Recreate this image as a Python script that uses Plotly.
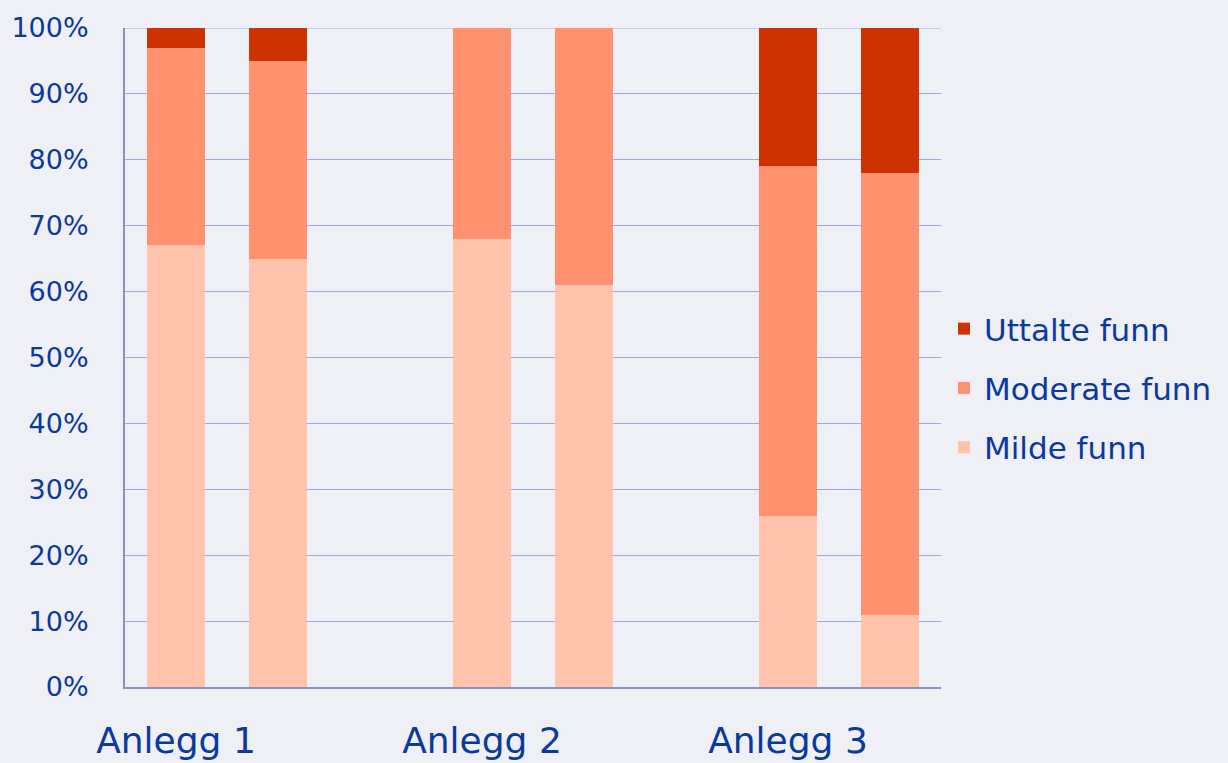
import plotly.graph_objects as go

# Slot positions of the six bars (slots 2 and 5 are left empty as group gaps)
bar_slots = [0, 1, 3, 4, 6, 7]
group_tick_slots = [0, 3, 6]
group_labels = ["Anlegg 1", "Anlegg 2", "Anlegg 3"]

# Share of findings per bar (%)
milde = [67, 65, 68, 61, 26, 11]
moderate = [30, 30, 32, 39, 53, 67]
uttalte = [3, 5, 0, 0, 21, 22]

y_ticks = list(range(0, 101, 10))
y_tick_labels = [f"{v}%" for v in y_ticks]

TEXT = "#0a3a9c"
BG = "#efeff6"
GRID = "#a3a8dc"
FONT = "DejaVu Sans, Verdana, sans-serif"

fig = go.Figure()
# (name, values, colour, legend rank) — stacked bottom to top, listed top to bottom
series = [
    ("Milde funn", milde, "#ffc2ad", 3),
    ("Moderate funn", moderate, "#ff9170", 2),
    ("Uttalte funn", uttalte, "#cc3300", 1),
]
for name, vals, color, rank in series:
    fig.add_trace(go.Bar(
        x=bar_slots, y=vals, name=name, width=0.57,
        marker=dict(color=color, line=dict(width=0)),
        legendgroup=name, legendrank=rank,
    ))

fig.update_layout(
    width=1228, height=763,
    barmode="stack",
    paper_bgcolor=BG, plot_bgcolor=BG,
    margin=dict(l=125, r=287, t=28, b=76, autoexpand=False),
    font=dict(family=FONT, color=TEXT),
    legend=dict(
        xref="container", yref="container",
        x=944 / 1228, xanchor="left", y=1 - 388 / 763, yanchor="middle",
        traceorder="grouped", tracegroupgap=16,
        font=dict(size=31, color=TEXT, family=FONT),
        bgcolor="rgba(0,0,0,0)", itemwidth=30,
    ),
    xaxis=dict(
        range=[-0.5, 7.5], tickmode="array",
        tickvals=group_tick_slots, ticktext=group_labels,
        tickfont=dict(size=36, color=TEXT), ticks="",
        showgrid=False, zeroline=False, automargin=False,
        showline=True, linecolor="#8a90c0", linewidth=2,
        ticklabelstandoff=21,
    ),
    yaxis=dict(
        range=[0, 100], tickmode="array",
        tickvals=y_ticks, ticktext=y_tick_labels,
        tickfont=dict(size=27, color=TEXT), ticks="",
        showgrid=True, gridcolor=GRID, gridwidth=1,
        zeroline=False, automargin=False,
        showline=True, linecolor="#8a90c0", linewidth=2,
        ticklabelstandoff=29,
    ),
)
# top boundary of the grid at 100%
fig.add_shape(type="line", xref="paper", yref="y", x0=0, x1=1, y0=100, y1=100,
              line=dict(color=GRID, width=1), layer="below")

fig.write_html("out.html")
